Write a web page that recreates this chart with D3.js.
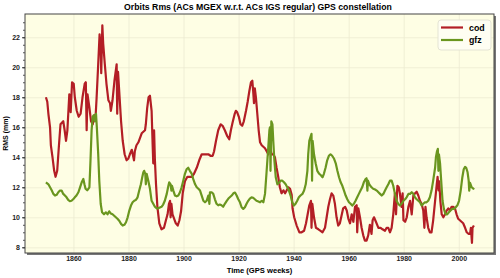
<!DOCTYPE html>
<html>
<head>
<meta charset="utf-8">
<script src="https://cdn.jsdelivr.net/npm/d3@7"></script>
<style>
  body { margin: 0; background: #fff; }
  svg { font-family: "Liberation Sans", Arial, sans-serif; }
  .tick text { font-weight: bold; }
</style>
</head>
<body>
<svg id="chart" width="500" height="278"></svg>
<script>
// series (GPS week, RMS in mm)
let codWeeks = [1850.0,1850.5,1850.9,1851.5,1851.8,1852.4,1853.0,1853.5,1854.1,1854.7,1855.3,1855.8,1856.3,1856.8,1857.3,1857.8,1858.5,1859.0,1859.5,1860.1,1860.5,1861.2,1861.9,1862.6,1863.3,1864.1,1864.5,1864.8,1865.1,1865.8,1866.4,1867.0,1867.6,1868.1,1868.4,1869.0,1869.5,1869.9,1870.1,1870.5,1870.8,1871.4,1872.0,1872.7,1873.3,1873.6,1874.2,1874.9,1875.7,1875.9,1876.2,1876.7,1877.3,1877.9,1878.6,1879.3,1879.9,1880.5,1881.2,1882.0,1882.3,1882.9,1883.6,1884.2,1884.8,1885.4,1886.0,1886.3,1886.8,1887.3,1887.8,1888.4,1888.8,1889.0,1889.3,1889.6,1890.0,1890.5,1891.2,1892.0,1892.9,1893.6,1894.2,1894.7,1895.1,1895.3,1895.6,1896.0,1896.6,1897.2,1897.9,1898.5,1899.1,1899.7,1900.5,1901.4,1902.1,1903.0,1903.8,1904.8,1905.7,1906.6,1907.4,1908.1,1909.0,1909.8,1910.6,1911.1,1911.8,1912.6,1913.5,1914.2,1915.0,1915.9,1916.6,1917.2,1917.8,1918.6,1919.0,1919.5,1920.1,1920.7,1921.3,1921.9,1922.7,1923.3,1923.9,1924.5,1925.0,1925.3,1925.6,1925.9,1926.3,1926.8,1927.3,1927.8,1928.4,1929.0,1929.6,1930.2,1930.8,1931.4,1932.0,1932.6,1933.2,1933.8,1934.4,1935.0,1935.6,1936.3,1936.9,1937.5,1938.1,1938.7,1939.3,1939.6,1940.2,1941.1,1942.1,1942.9,1943.8,1944.5,1945.1,1945.7,1946.3,1946.5,1946.8,1947.4,1948.1,1949.0,1949.8,1950.5,1951.4,1952.0,1952.6,1953.2,1953.8,1954.4,1955.0,1955.6,1956.2,1956.8,1957.4,1958.0,1958.7,1959.3,1959.9,1960.5,1961.1,1961.7,1962.3,1962.9,1963.1,1963.5,1964.1,1964.7,1965.3,1965.9,1966.5,1967.1,1967.7,1968.3,1968.7,1969.2,1969.9,1970.8,1971.6,1972.3,1973.2,1973.8,1974.4,1975.0,1975.6,1976.2,1976.8,1977.2,1977.7,1978.2,1978.6,1979.2,1979.6,1979.9,1980.5,1981.1,1981.7,1982.3,1982.9,1983.5,1984.1,1984.7,1985.3,1985.9,1986.5,1987.1,1987.5,1987.9,1988.3,1988.9,1989.5,1990.1,1990.7,1991.4,1992.0,1992.3,1992.7,1992.9,1993.3,1993.8,1994.4,1995.0,1995.6,1996.2,1996.8,1997.4,1998.0,1998.6,1999.2,1999.8,2000.4,2001.0,2001.6,2002.3,2002.9,2003.5,2004.1,2004.4,2004.8,2005.0,2005.5];
let codRms = [18.0,17.7,16.9,16.0,14.8,14.0,13.1,12.7,13.1,14.7,16.2,16.3,16.4,15.8,15.1,15.8,18.2,17.0,19.0,18.9,18.0,17.1,16.7,16.9,18.0,18.9,19.0,15.8,18.2,17.3,16.4,16.2,16.7,16.9,17.9,20.2,22.2,21.3,19.6,22.8,21.6,20.2,18.9,17.8,17.6,17.1,17.8,19.1,20.2,16.9,19.7,18.2,16.4,15.1,14.2,13.8,13.9,14.2,14.5,13.8,14.4,14.8,15.0,15.3,15.6,15.7,15.8,16.2,17.3,18.0,18.1,17.1,14.7,13.6,15.8,13.8,12.2,10.7,9.6,9.2,9.3,9.8,10.2,10.9,11.1,10.0,10.9,10.2,9.9,9.6,9.45,9.8,10.4,11.6,12.4,12.7,12.7,12.7,12.9,13.3,13.8,14.2,14.2,14.2,14.2,14.1,14.1,14.4,15.1,15.8,16.2,16.1,15.8,15.4,15.2,15.8,16.3,16.9,17.1,17.0,16.7,16.2,16.1,16.4,17.1,17.7,18.4,19.0,19.1,18.4,17.6,18.6,18.0,16.9,15.8,15.0,14.8,14.7,14.6,14.4,14.2,14.7,14.2,14.2,14.0,13.3,12.7,12.0,11.6,11.8,11.6,11.8,12.0,11.9,11.5,10.6,10.0,9.45,9.0,9.0,9.1,9.6,10.2,10.8,11.1,9.3,10.9,10.0,9.3,9.2,9.1,9.0,9.3,10.0,10.7,11.2,11.6,11.45,10.9,10.0,9.45,9.6,10.1,10.6,10.7,10.45,9.9,9.6,10.2,9.7,10.7,10.8,9.0,10.6,10.0,9.3,8.8,8.45,8.45,8.8,9.5,8.9,9.8,10.0,9.7,9.3,9.3,9.2,9.1,9.3,9.3,9.0,9.3,10.2,11.6,10.2,12.1,12.0,11.6,10.7,11.6,9.8,9.7,10.0,10.7,11.1,10.2,11.45,11.6,11.7,11.45,11.1,10.9,10.45,9.3,10.7,10.0,9.3,9.0,9.0,9.8,11.1,12.2,12.7,11.8,12.4,11.1,10.2,10.0,10.2,10.45,10.6,10.45,10.7,10.7,10.6,10.2,9.9,9.8,9.7,9.6,9.3,9.0,8.9,8.9,9.3,8.3,9.3,9.45];

let gfzWeeks = [1850.0,1850.9,1851.5,1852.1,1852.7,1853.3,1853.9,1854.5,1855.1,1855.7,1856.3,1856.9,1857.5,1858.1,1858.7,1859.3,1859.9,1860.5,1861.1,1861.8,1862.4,1863.0,1863.6,1864.0,1864.4,1865.0,1865.8,1866.2,1866.6,1867.0,1867.4,1867.8,1868.2,1868.5,1869.0,1869.4,1869.9,1870.4,1871.1,1871.8,1872.4,1873.0,1873.6,1874.2,1874.8,1875.4,1876.0,1876.7,1877.3,1877.9,1878.5,1879.1,1879.7,1880.3,1880.9,1881.5,1882.1,1882.7,1883.3,1883.9,1884.5,1885.0,1885.4,1885.7,1886.1,1886.3,1886.6,1887.2,1887.8,1888.4,1889.0,1889.6,1890.2,1890.8,1891.4,1892.0,1892.6,1893.2,1893.9,1894.5,1894.8,1895.3,1895.6,1895.8,1896.3,1896.9,1897.5,1898.1,1898.7,1899.3,1899.9,1900.5,1901.1,1901.7,1902.3,1903.0,1903.5,1904.2,1904.8,1905.4,1906.0,1906.6,1907.2,1907.8,1908.4,1909.0,1909.4,1909.6,1910.2,1910.8,1911.4,1912.0,1912.6,1913.2,1913.8,1914.4,1915.0,1915.7,1916.3,1916.9,1917.5,1918.1,1918.7,1919.3,1919.9,1920.5,1921.1,1921.7,1922.3,1922.9,1923.5,1924.1,1924.7,1925.3,1925.9,1926.5,1927.2,1927.8,1928.4,1929.0,1929.6,1930.2,1930.8,1931.2,1931.4,1931.6,1931.9,1932.3,1932.6,1933.0,1933.5,1934.1,1934.7,1935.3,1935.9,1936.5,1937.1,1937.7,1938.3,1938.9,1939.5,1940.1,1940.7,1941.3,1941.9,1942.5,1943.2,1943.8,1944.4,1945.0,1945.3,1945.7,1946.2,1946.5,1946.7,1946.9,1947.4,1948.0,1948.6,1949.3,1949.9,1950.5,1951.0,1951.6,1952.2,1952.8,1953.4,1954.0,1954.7,1955.3,1955.9,1956.5,1957.1,1957.7,1958.3,1958.9,1959.5,1960.1,1960.7,1961.3,1961.9,1962.5,1963.1,1963.7,1964.3,1964.9,1965.5,1966.2,1966.5,1966.8,1967.0,1967.5,1968.3,1968.9,1969.6,1970.2,1970.8,1971.4,1972.0,1972.6,1973.2,1973.8,1974.4,1975.0,1975.6,1976.2,1976.8,1977.4,1978.0,1978.6,1979.2,1979.9,1980.5,1981.1,1981.7,1982.3,1982.9,1983.5,1984.1,1984.7,1985.3,1985.9,1986.5,1987.1,1987.7,1988.3,1988.9,1989.5,1990.1,1990.7,1991.4,1991.7,1992.1,1992.4,1992.6,1992.8,1993.2,1993.7,1994.1,1994.6,1995.2,1995.8,1996.4,1997.0,1997.6,1998.3,1998.9,1999.5,2000.1,2000.7,2001.3,2001.8,2002.3,2002.7,2003.2,2003.6,2003.8,2004.1,2004.7,2005.3,2005.6];
let gfzRms = [12.33,12.2,12.0,11.8,11.56,11.45,11.5,11.67,11.78,11.78,11.56,11.45,11.33,11.16,11.07,11.1,11.2,11.33,11.45,11.67,12.0,12.33,12.56,12.2,11.9,11.8,12.0,13.8,15.8,16.7,16.8,16.4,16.9,16.0,14.2,12.4,10.9,10.33,10.2,10.33,10.2,10.4,10.25,10.2,10.1,10.0,9.9,9.75,9.56,9.45,9.5,9.67,10.0,10.45,10.78,11.0,11.1,11.16,11.33,11.78,12.2,12.67,13.0,13.1,12.9,12.2,12.9,12.44,11.9,11.1,10.9,10.7,10.6,10.6,10.65,10.7,10.85,11.1,11.56,12.1,12.33,12.2,11.78,12.1,11.78,11.45,11.4,11.45,11.67,12.0,12.44,12.9,13.2,13.3,13.1,12.9,12.56,12.2,12.0,11.9,11.78,11.45,11.1,11.0,11.1,11.45,10.9,11.67,11.67,11.56,11.2,10.9,10.8,10.85,10.8,10.7,10.9,11.1,11.25,11.35,11.45,11.6,11.65,11.45,11.2,11.0,10.67,10.56,10.67,10.9,11.1,11.25,11.33,11.3,11.2,11.1,11.05,11.0,11.1,11.0,11.56,13.1,14.7,15.8,16.0,13.1,16.4,16.2,15.1,13.8,12.67,12.2,12.3,12.44,12.44,12.33,12.2,12.0,11.78,11.45,11.0,10.78,10.9,11.1,11.33,11.45,11.56,11.78,12.2,13.1,14.2,15.1,15.4,15.56,12.44,15.1,14.2,13.6,13.1,12.9,12.8,12.67,12.9,13.3,13.8,14.1,14.2,14.1,13.9,13.6,13.1,12.67,12.33,12.1,11.78,11.45,11.2,11.0,10.9,10.78,10.9,11.1,11.33,11.56,11.78,12.0,12.33,12.56,12.6,11.78,12.44,12.2,12.0,11.9,11.85,11.78,11.67,11.56,11.45,11.56,11.78,12.0,12.2,12.44,12.44,12.1,11.56,11.1,10.9,10.78,10.9,11.1,11.2,11.35,11.56,11.56,11.67,11.56,11.33,11.2,11.1,11.0,10.78,10.9,11.0,11.0,11.1,11.33,11.78,12.44,13.3,14.0,14.4,14.56,13.1,14.2,13.6,12.2,11.1,10.56,10.2,10.2,10.33,10.45,10.56,10.56,10.67,10.8,11.1,11.78,12.67,13.2,13.36,13.3,13.0,12.44,11.78,12.3,12.0,11.9,11.95];

let seriesNames = ["cod", "gfz"];
let seriesColors = ["#b31e25", "#6a961f"];
let xTicks = [1860, 1880, 1900, 1920, 1940, 1960, 1980, 2000];
let yTicks = [8, 10, 12, 14, 16, 18, 20, 22];

let margin = { top: 14, right: 6, bottom: 25, left: 25 };
let width = 500 - margin.left - margin.right;
let height = 278 - margin.top - margin.bottom;

let svg = d3.select("#chart");

svg.append("text")
    .attr("x", 258)
    .attr("y", 10)
    .attr("text-anchor", "middle")
    .attr("font-size", "8.7px")
    .attr("font-weight", "bold")
    .text("Orbits Rms (ACs MGEX w.r.t. ACs IGS regular) GPS constellation");

let g = svg.append("g").attr("transform", `translate(${margin.left},${margin.top})`);

let x = d3.scaleLinear().domain([1842.4, 2012.8]).range([0, width]);
let y = d3.scaleLinear().domain([7.62, 23.55]).range([height, 0]);

// shadow + background
g.append("rect")
    .attr("x", 2).attr("y", 2)
    .attr("width", width).attr("height", height)
    .attr("fill", "#777");
g.append("rect")
    .attr("width", width).attr("height", height)
    .attr("fill", "#fefee4");

// grid
g.append("g")
    .attr("transform", `translate(0,${height})`)
    .call(d3.axisBottom(x).tickValues(xTicks).tickSize(-height).tickFormat(""))
    .call(a => a.select(".domain").remove())
    .call(a => a.selectAll("line").attr("stroke", "#ecebd2").attr("stroke-width", 0.8));
g.append("g")
    .call(d3.axisLeft(y).tickValues(yTicks).tickSize(-width).tickFormat(""))
    .call(a => a.select(".domain").remove())
    .call(a => a.selectAll("line").attr("stroke", "#ecebd2").attr("stroke-width", 0.8));

// lines
let line = d3.line()
    .x(d => x(d[0]))
    .y(d => y(d[1]));

let allSeries = [
    d3.zip(codWeeks, codRms),
    d3.zip(gfzWeeks, gfzRms)
];

g.append("g").selectAll("path")
    .data(allSeries)
    .enter()
    .append("path")
    .attr("d", line)
    .attr("fill", "none")
    .attr("stroke", (d, i) => seriesColors[i])
    .attr("stroke-width", 2.2)
    .attr("stroke-linejoin", "round");

// frame
g.append("rect")
    .attr("width", width).attr("height", height)
    .attr("fill", "none")
    .attr("stroke", "#444")
    .attr("stroke-width", 1);

// axes
let minorY = d3.range(8, 23.5, 0.5);
g.append("g")
    .call(d3.axisLeft(y).tickValues(minorY).tickSize(2).tickFormat(""))
    .call(a => a.select(".domain").remove())
    .call(a => a.selectAll("line").attr("stroke", "#555"));
g.append("g")
    .call(d3.axisLeft(y).tickValues(yTicks).tickSize(3).tickPadding(2).tickFormat(d3.format("d")))
    .call(a => a.select(".domain").remove())
    .call(a => a.selectAll("line").attr("stroke", "#333"))
    .call(a => a.selectAll("text").attr("font-size", "7px").attr("fill", "#222"));

g.append("g")
    .attr("transform", `translate(0,${height})`)
    .call(d3.axisBottom(x).tickValues(xTicks).tickSize(0).tickPadding(3).tickFormat(d3.format("d")))
    .call(a => a.select(".domain").remove())
    .call(a => a.selectAll("text").attr("font-size", "7px").attr("fill", "#222"));

svg.append("text")
    .attr("x", margin.left + width / 2)
    .attr("y", 273)
    .attr("text-anchor", "middle")
    .attr("font-size", "7.6px")
    .attr("font-weight", "bold")
    .text("Time (GPS weeks)");

svg.append("text")
    .attr("transform", `translate(8,${margin.top + height / 2}) rotate(-90)`)
    .attr("text-anchor", "middle")
    .attr("font-size", "7px")
    .attr("font-weight", "bold")
    .text("RMS (mm)");

// legend
let legend = g.append("g").attr("transform", `translate(${width - 56},6)`);
legend.append("rect")
    .attr("width", 53).attr("height", 30)
    .attr("rx", 3)
    .attr("fill", "#fefef2")
    .attr("stroke", "#e4e4d4");
legend.selectAll("g")
    .data(seriesNames)
    .enter()
    .append("g")
    .each(function(d, i) {
        let elem = d3.select(this);
        elem.append("line")
            .attr("x1", 3).attr("x2", 25)
            .attr("y1", 7.5 + i * 12.5).attr("y2", 7.5 + i * 12.5)
            .attr("stroke", seriesColors[i])
            .attr("stroke-width", 2.2);
        elem.append("text")
            .attr("x", 31)
            .attr("y", 10.5 + i * 12.5)
            .attr("font-size", "8.8px")
            .attr("font-weight", "bold")
            .text(d);
    });
</script>
</body>
</html>
